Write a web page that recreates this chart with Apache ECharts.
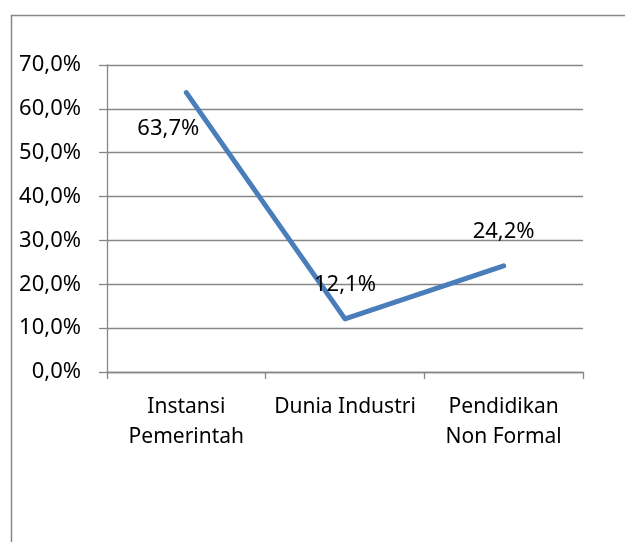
<!DOCTYPE html>
<html>
<head>
<meta charset="utf-8">
<style>
  html, body { margin: 0; padding: 0; background: #fff; }
  #chart { width: 625px; height: 542px; }
</style>
<script src="https://cdn.jsdelivr.net/npm/echarts@6/dist/echarts.min.js"></script>
</head>
<body>
<div id="chart"></div>
<script>
const categories = ["Instansi\nPemerintah", "Dunia Industri", "Pendidikan\nNon Formal"];
const values = [63.7, 12.1, 24.2];
const yMin = 0;
const yMax = 70;
const yStep = 10;

const fmt = (v) => v.toFixed(1).replace(".", ",") + "%";
const font = "'Noto Sans', sans-serif";
const labelOffsets = [[-18, 36], [0, -34], [0, -34]];

const chart = echarts.init(document.getElementById("chart"), null, { renderer: "canvas" });

chart.setOption({
  animation: false,
  backgroundColor: "#fff",
  graphic: [{
    type: "rect",
    left: 9,
    top: 13,
    shape: { width: 700, height: 600 },
    style: { fill: "none", stroke: "#878787", lineWidth: 1.5 }
  }],
  grid: { left: 107, right: 42, top: 65, bottom: 170 },
  xAxis: {
    type: "category",
    data: categories,
    boundaryGap: true,
    axisLine: { lineStyle: { color: "#878787", width: 1.3 } },
    axisTick: { show: true, length: 7, lineStyle: { color: "#878787", width: 1.3 } },
    axisLabel: { color: "#000", fontFamily: font, fontSize: 21, lineHeight: 30, margin: 20, interval: 0 },
    splitLine: { show: false }
  },
  yAxis: {
    type: "value",
    min: yMin,
    max: yMax,
    interval: yStep,
    axisLine: { show: true, lineStyle: { color: "#878787", width: 1.3 } },
    axisTick: { show: true, length: 8, lineStyle: { color: "#878787", width: 1.3 } },
    axisLabel: { color: "#000", fontFamily: font, fontSize: 22, margin: 26, formatter: fmt },
    splitLine: { show: true, lineStyle: { color: "#878787", width: 1.3 } }
  },
  series: [{
    type: "line",
    data: values.map((v, i) => ({
      value: v,
      label: { offset: labelOffsets[i] }
    })),
    symbol: "circle",
    symbolSize: 1,
    itemStyle: { color: "#4a7ebb" },
    lineStyle: { color: "#4a7ebb", width: 5, cap: "round", join: "round" },
    label: {
      show: true,
      position: "inside",
      color: "#000",
      fontFamily: font,
      fontSize: 22,
      formatter: (p) => fmt(p.value)
    }
  }]
});
</script>
</body>
</html>
